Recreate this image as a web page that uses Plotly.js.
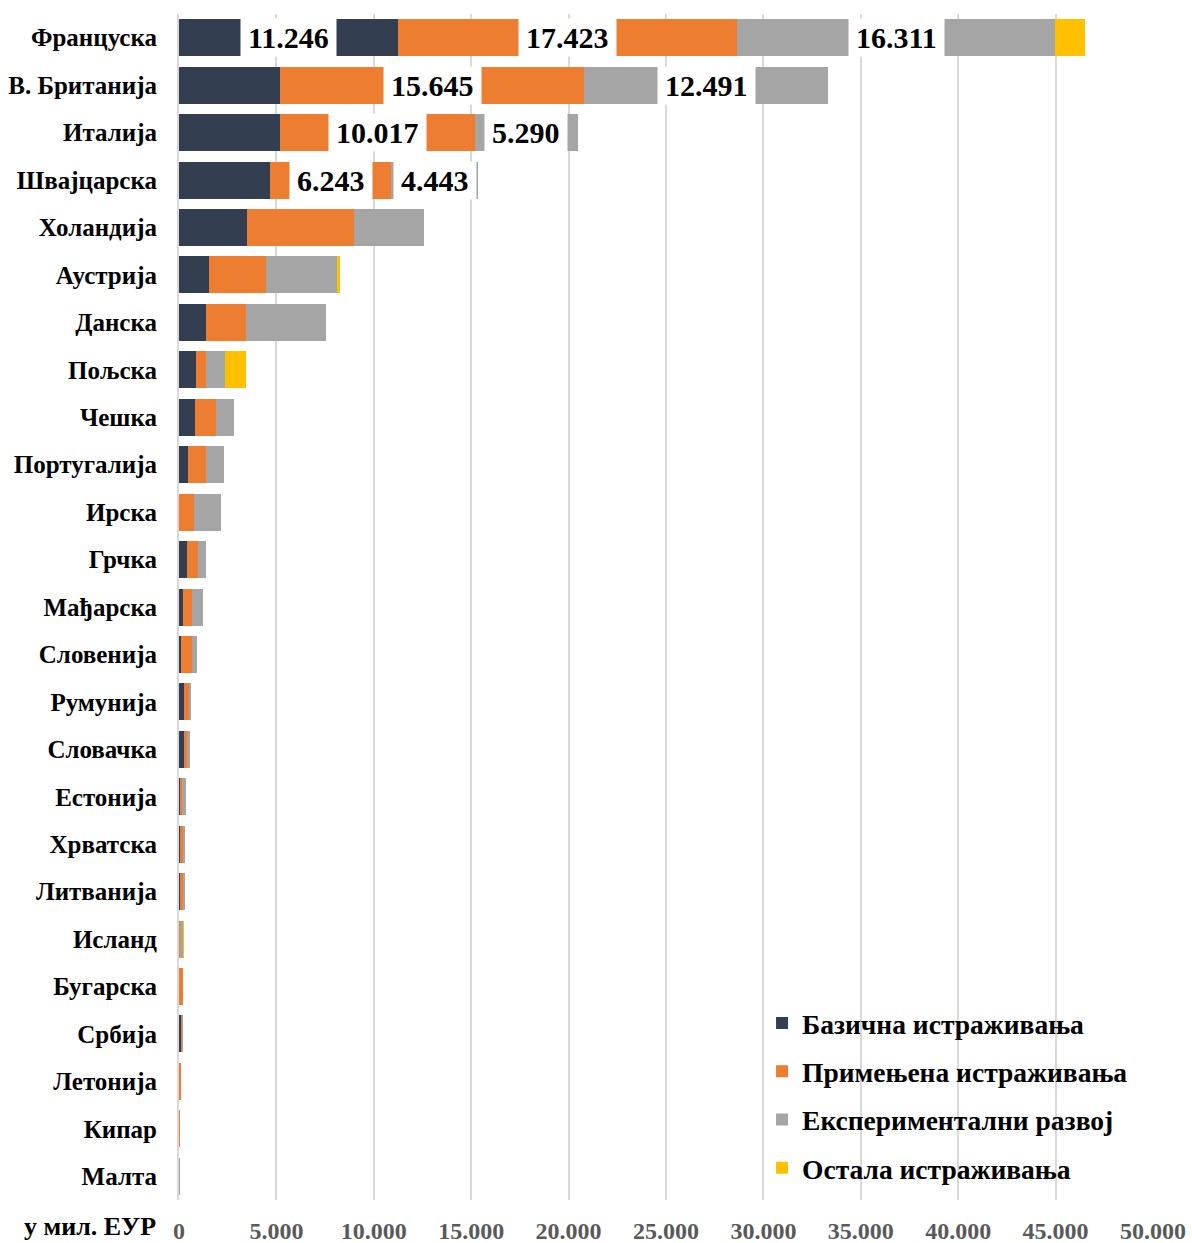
<!DOCTYPE html>
<html>
<head>
<meta charset="utf-8">
<script src="https://cdn.plot.ly/plotly-3.0.1.min.js"></script>
<style>html,body{margin:0;padding:0;background:#fff;}#chart{width:1192px;height:1243px;}</style>
</head>
<body>
<div id="chart"></div>
<script>
const countries = ["Француска","В. Британија","Италија","Швајцарска","Холандија","Аустрија","Данска","Пољска","Чешка","Португалија","Ирска","Грчка","Мађарска","Словенија","Румунија","Словачка","Естонија","Хрватска","Литванија","Исланд","Бугарска","Србија","Летонија","Кипар","Малта"];
const basic        = [11246, 5170, 5170, 4660, 3490, 1560, 1370, 860, 820, 480,    0, 390, 200, 100, 240, 240,  50,  70,  30,  10,  10,  90,  10,  10,   5];
const applied      = [17423,15645,10017, 6243, 5480, 2910, 2070, 510,1060, 890,  770, 570, 450, 550, 260, 160,  90, 160, 170,  60, 190,  60, 100,  40,  20];
const experimental = [16311,12491, 5290, 4443, 3610, 3630, 4110, 990, 960, 920, 1390, 410, 570, 260, 100, 150, 210,  60,  90, 150,  20,  70,  10,  20,  10];
const other        = [ 1540,    0,    0,    0,    0,  170,    0,1060,   0,   0,    0,   0,   0,   0,   0,   0,   0,   0,   0,  60,   0,   0,   0,   0,  20];
const seriesNames  = ["Базична истраживања","Примењена истраживања","Експериментални развој","Остала истраживања"];
const seriesColors = ["#333F50","#ED7D31","#A5A5A5","#FFC000"];
const basicLabelRows = [0];
const appliedLabelRows = [0,1,2,3];
const experimentalLabelRows = [0,1,2,3];
const xTickVals = [0,5000,10000,15000,20000,25000,30000,35000,40000,45000,50000];
const unitLabel = "у мил. ЕУР";

const FONT = "Liberation Serif, Times New Roman, serif";
const seriesData = [basic, applied, experimental, other];

const traces = seriesData.map((vals, i) => ({
  type: "bar",
  orientation: "h",
  name: seriesNames[i],
  legendgroup: "g" + i,
  x: vals,
  y: countries,
  marker: {color: seriesColors[i], line: {width: 0}},
  hoverinfo: "skip"
}));

function fmt(v){ return Math.round(v).toString().replace(/\B(?=(\d{3})+(?!\d))/g, "."); }

const annotations = [];
function addLabels(rows, seriesIdx){
  rows.forEach(r => {
    let base = 0;
    for (let k = 0; k < seriesIdx; k++) base += seriesData[k][r];
    const v = seriesData[seriesIdx][r];
    annotations.push({
      x: base + v/2, y: countries[r], xref: "x", yref: "y",
      text: fmt(v), showarrow: false,
      font: {family: FONT, size: 30, color: "#000000", weight: "bold"},
      bgcolor: "#FFFFFF", borderpad: 7, height: 23,
      xanchor: "center", yanchor: "middle", valign: "middle"
    });
  });
}
addLabels(basicLabelRows, 0);
addLabels(appliedLabelRows, 1);
addLabels(experimentalLabelRows, 2);

annotations.push({
  xref: "paper", yref: "paper", x: -0.023, y: -0.022,
  xanchor: "right", yanchor: "middle", showarrow: false, borderpad: 0,
  text: "<b>" + unitLabel + "</b>",
  font: {family: FONT, size: 26, color: "#000000"}
});

const layout = {
  width: 1192, height: 1243,
  margin: {l: 179, r: 39, t: 14, b: 43},
  paper_bgcolor: "#FFFFFF", plot_bgcolor: "#FFFFFF",
  barmode: "stack", bargap: 0.22,
  separators: ",.",
  font: {family: FONT},
  showlegend: true,
  legend: {
    x: 0.5986, y: 0.1697, xanchor: "left", yanchor: "top",
    bgcolor: "rgba(0,0,0,0)",
    font: {family: FONT, size: 27.5, color: "#000000", weight: "bold"},
    tracegroupgap: 9.5, traceorder: "grouped", itemwidth: 30
  },
  xaxis: {
    range: [0, 50000], tickvals: xTickVals, tickformat: ",d",
    showgrid: true, gridcolor: "#D9D9D9", gridwidth: 2,
    zeroline: false, showline: false, ticks: "",
    ticklabelstandoff: 14,
    tickfont: {family: FONT, size: 24, color: "#595959", weight: "bold"},
    fixedrange: true
  },
  yaxis: {
    type: "category", autorange: "reversed",
    showgrid: false, zeroline: false,
    showline: true, linecolor: "#D9D9D9", linewidth: 2,
    ticks: "", ticklabelstandoff: 15,
    tickfont: {family: FONT, size: 25, color: "#000000", weight: "bold"},
    fixedrange: true
  },
  annotations: annotations
};

Plotly.newPlot("chart", traces, layout, {displayModeBar: false, staticPlot: true});
</script>
</body>
</html>
